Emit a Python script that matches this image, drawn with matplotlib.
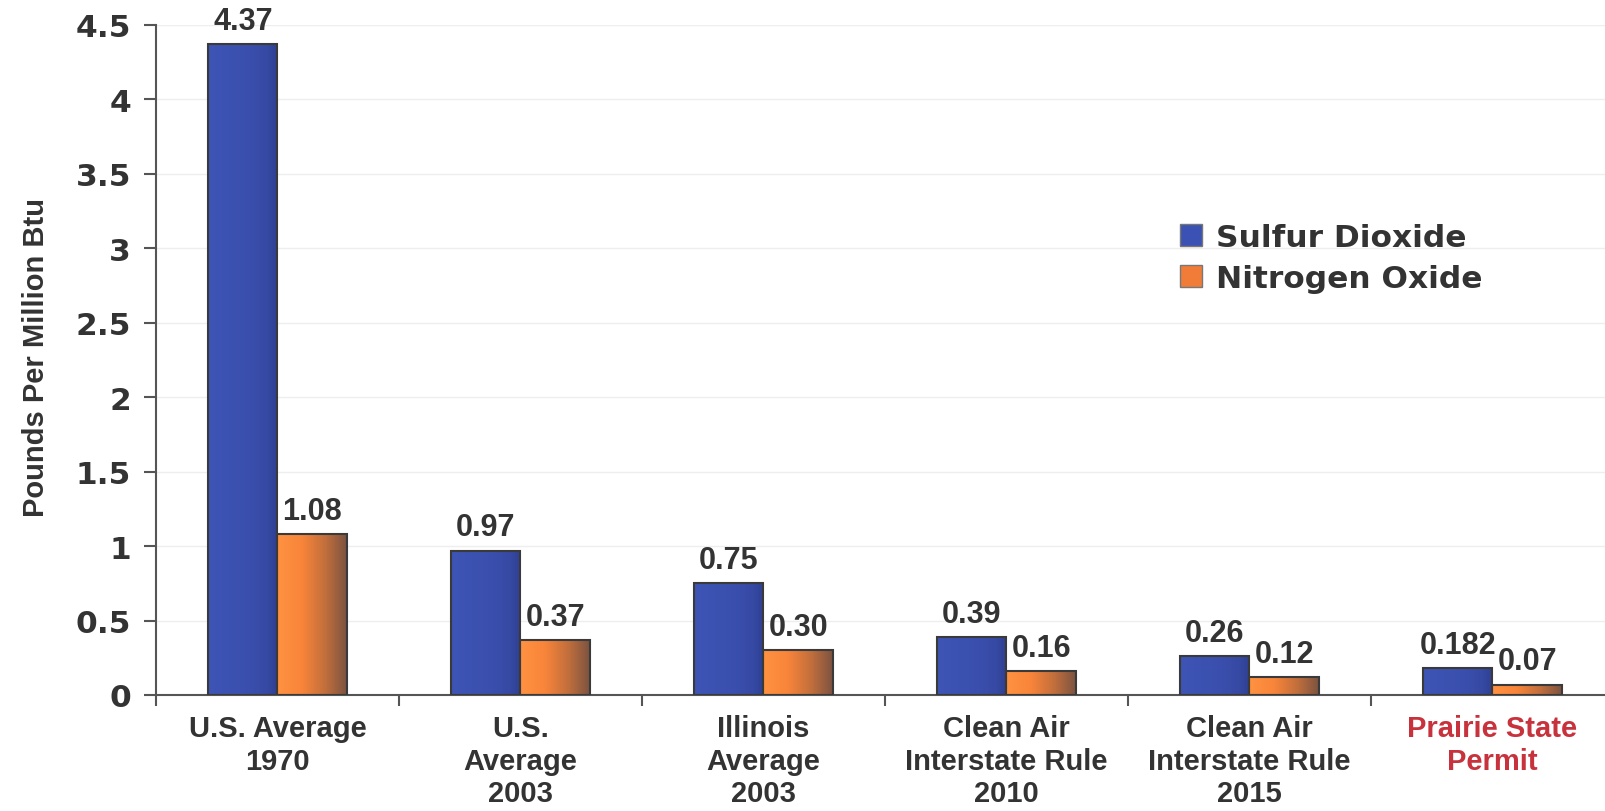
import matplotlib
matplotlib.use("Agg")
import matplotlib.pyplot as plt
import numpy as np
from matplotlib.colors import LinearSegmentedColormap
from matplotlib.patches import Patch

categories = ["U.S. Average\n1970", "U.S.\nAverage\n2003", "Illinois\nAverage\n2003",
              "Clean Air\nInterstate Rule\n2010", "Clean Air\nInterstate Rule\n2015",
              "Prairie State\nPermit"]
so2 = [4.37, 0.97, 0.75, 0.39, 0.26, 0.182]
nox = [1.08, 0.37, 0.30, 0.16, 0.12, 0.07]
so2_labels = ["4.37", "0.97", "0.75", "0.39", "0.26", "0.182"]
nox_labels = ["1.08", "0.37", "0.30", "0.16", "0.12", "0.07"]
series_names = ["Sulfur Dioxide", "Nitrogen Oxide"]
yticks = [0, 0.5, 1, 1.5, 2, 2.5, 3, 3.5, 4, 4.5]
ytick_labels = ["0", "0.5", "1", "1.5", "2", "2.5", "3", "3.5", "4", "4.5"]

W, H = 1606, 812
fig = plt.figure(figsize=(W / 100, H / 100), dpi=100)
left_px, right_px, top_px, bot_px = 156, 1614, 26, 696
ax = fig.add_axes([left_px / W, 1 - bot_px / H, (right_px - left_px) / W, (bot_px - top_px) / H])

blue_cmap = LinearSegmentedColormap.from_list(
    "b", [(0, "#3e55b6"), (0.6, "#3a4fad"), (0.85, "#3649a3"), (1, "#2f4092")])
orange_cmap = LinearSegmentedColormap.from_list(
    "o", [(0, "#ff9242"), (0.35, "#f9853a"), (0.7, "#c06e3c"), (1, "#7c5341")])

bw = 0.285
x = np.arange(len(categories))
grad = np.linspace(0, 1, 256).reshape(1, -1)
text_col = "#333333"

for vals, labels, offset, cmap in [(so2, so2_labels, -bw / 2, blue_cmap),
                                   (nox, nox_labels, bw / 2, orange_cmap)]:
    bars = ax.bar(x + offset, vals, width=bw, facecolor="none",
                  edgecolor="#3a3a3a", linewidth=1.5, zorder=3)
    for b, lab in zip(bars, labels):
        x0, w, h = b.get_x(), b.get_width(), b.get_height()
        im = ax.imshow(grad, cmap=cmap, extent=(x0, x0 + w, 0, h),
                       aspect="auto", zorder=2, interpolation="bilinear")
        im.set_clip_path(b)
        ax.annotate(lab, (x0 + w / 2, h), xytext=(0, 6), textcoords="offset points",
                    ha="center", va="bottom", fontsize=22, fontweight="bold",
                    color=text_col, family="Liberation Sans", zorder=4)

ax.set_xlim(-0.5, len(categories) - 0.5)
ax.set_ylim(0, 4.5)

for yv in yticks[1:]:
    ax.axhline(yv, color="#eeeeee", lw=1.0, zorder=1)

for s in ["top", "right"]:
    ax.spines[s].set_visible(False)
for s in ["left", "bottom"]:
    ax.spines[s].set_color("#555555")
    ax.spines[s].set_linewidth(1.5)

ax.set_yticks(yticks)
ax.set_yticklabels(ytick_labels, fontsize=22.5, fontweight="bold",
                   family="DejaVu Sans", color="#333333")
ax.tick_params(axis="y", length=9, width=1.5, color="#555555", pad=9)

ax.set_xticks(x)
ax.set_xticklabels(categories, fontsize=21, fontweight="bold",
                   family="Liberation Sans", color=text_col, linespacing=1.2)
ax.tick_params(axis="x", which="major", length=0, pad=14)
ax.set_xticks(np.arange(-0.5, len(categories), 1), minor=True)
ax.tick_params(axis="x", which="minor", length=8, width=1.5, color="#555555")
ax.get_xticklabels()[-1].set_color("#c8323c")

ax.set_ylabel("Pounds Per Million Btu", fontsize=21, fontweight="bold",
              family="Liberation Sans", color=text_col)
ax.yaxis.set_label_coords((50 - left_px) / (right_px - left_px), (bot_px - 358) / (bot_px - top_px))

handles = [Patch(facecolor="#3b52b4", edgecolor="#777777", lw=1),
           Patch(facecolor="#f07c38", edgecolor="#777777", lw=1)]
leg = ax.legend(handles, series_names, loc="center left",
                bbox_to_anchor=(1180 / W, 1 - 259 / H), bbox_transform=fig.transFigure,
                frameon=False, borderpad=0, borderaxespad=0, handlelength=0.7,
                handleheight=0.7, handletextpad=0.45, labelspacing=0.38,
                prop={"family": "DejaVu Sans", "weight": "bold", "size": 22.5})
for t in leg.get_texts():
    t.set_color(text_col)

fig.savefig("out.png", dpi=100, facecolor="white")
